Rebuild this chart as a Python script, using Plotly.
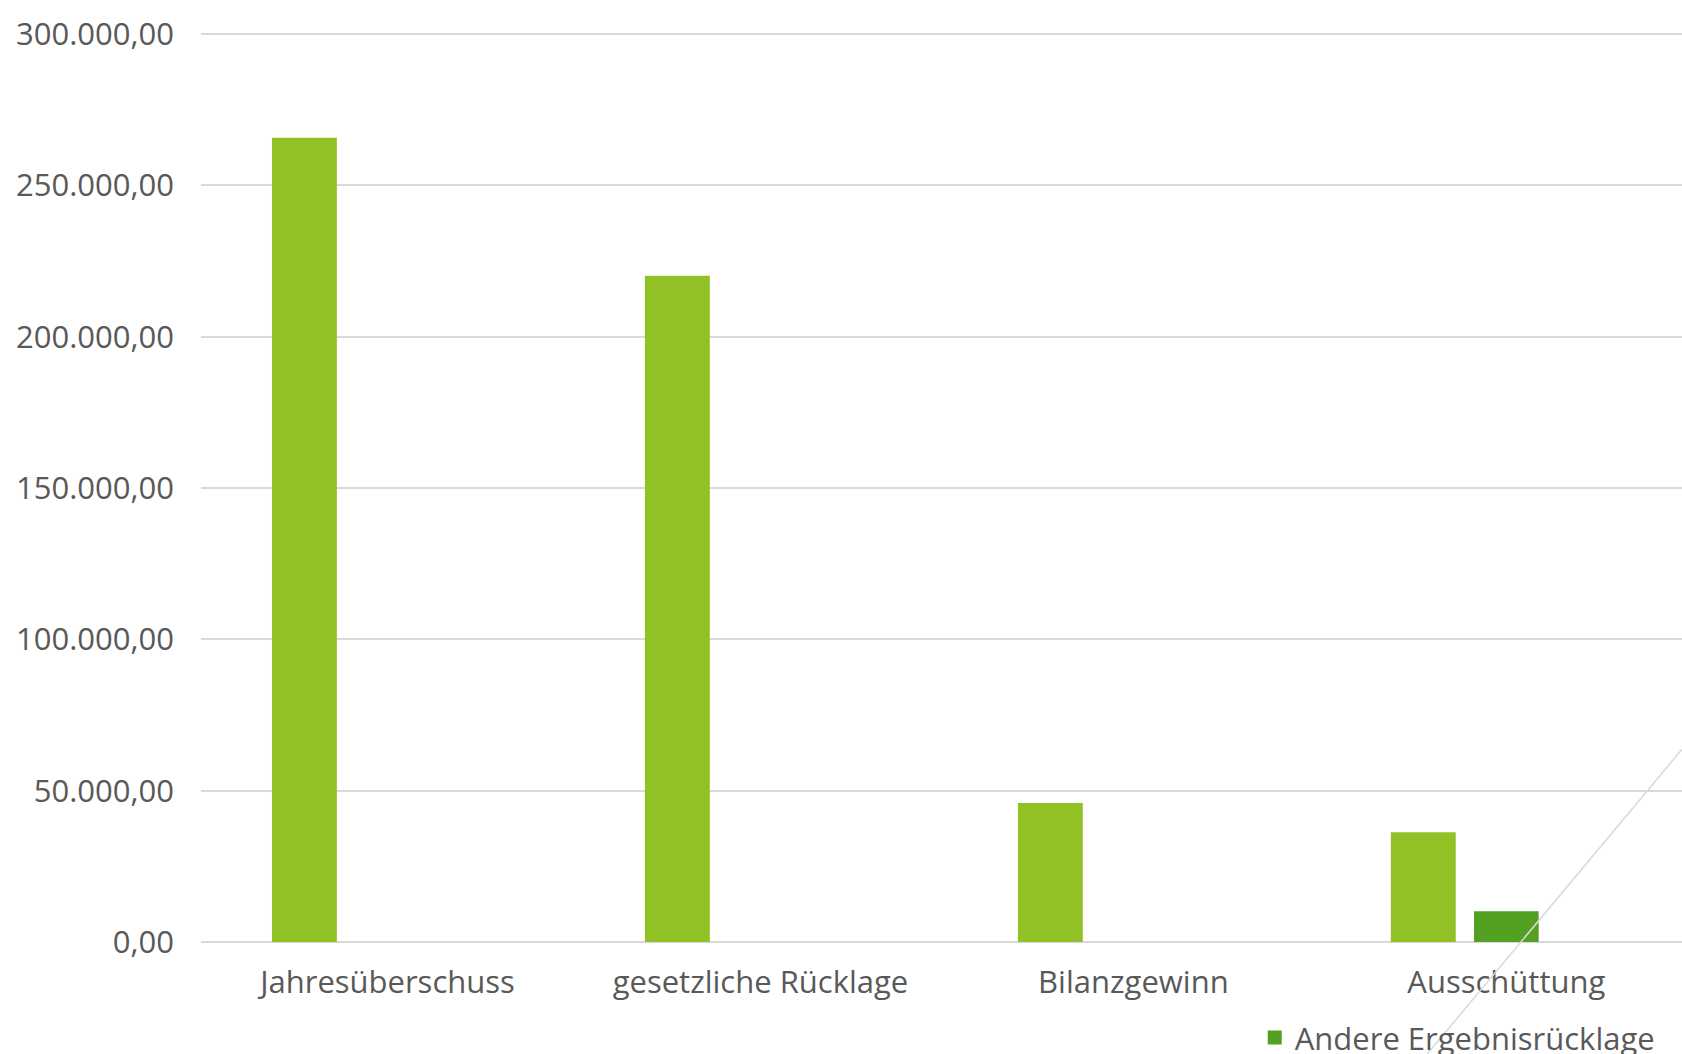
import plotly.graph_objects as go

categories = ["Jahresüberschuss", "gesetzliche Rücklage", "Bilanzgewinn", "Ausschüttung"]
betrag = [265700, 220100, 45900, 36300]
andere_ergebnisruecklage = [None, None, None, 9850]
y_ticks = [0, 50000, 100000, 150000, 200000, 250000, 300000]

LIGHT = "#92C126"
DARK = "#54A022"
TEXT = "#595959"
GRID = "#D9D9D9"
FONT = "Open Sans"

fig = go.Figure()
fig.add_trace(go.Bar(
    x=categories, y=betrag, name="Betrag", showlegend=False,
    marker=dict(color=LIGHT, line=dict(width=0)),
    width=0.174, offset=-0.3097,
))
fig.add_trace(go.Bar(
    x=categories, y=andere_ergebnisruecklage, name="Andere Ergebnisrücklage",
    marker=dict(color=DARK, line=dict(color=DARK, width=2)),
    width=0.168, offset=-0.084,
))

# thin grey diagonal decoration line in the lower-right corner
fig.add_shape(type="line", xref="paper", yref="paper",
              x0=0.8278, y0=-0.1233, x1=1.0, y1=0.2115,
              line=dict(color=GRID, width=1.5))

fig.update_layout(
    width=1682, height=1054,
    margin=dict(l=201, r=0, t=31, b=112, pad=0),
    paper_bgcolor="white", plot_bgcolor="white",
    barmode="overlay",
    separators=",.",
    font=dict(family=FONT, size=31, color=TEXT),
    xaxis=dict(
        type="category", range=[-0.5, 3.471],
        showgrid=False, showline=False, zeroline=False, ticks="",
        tickfont=dict(family=FONT, size=31, color=TEXT),
        ticklabelstandoff=19,
    ),
    yaxis=dict(
        range=[0, 301000], tickvals=y_ticks, tickformat=",.2f",
        showgrid=True, gridcolor=GRID, gridwidth=2,
        zeroline=True, zerolinecolor=GRID, zerolinewidth=2,
        showline=False, ticks="",
        tickfont=dict(family=FONT, size=31, color=TEXT),
        ticklabelstandoff=26,
    ),
    legend=dict(
        orientation="h", xref="paper", yref="container",
        x=0.7115, y=0.041, xanchor="left", yanchor="top",
        font=dict(family=FONT, size=31, color=TEXT),
        bgcolor="rgba(0,0,0,0)",
    ),
)

fig.write_html("out.html")
